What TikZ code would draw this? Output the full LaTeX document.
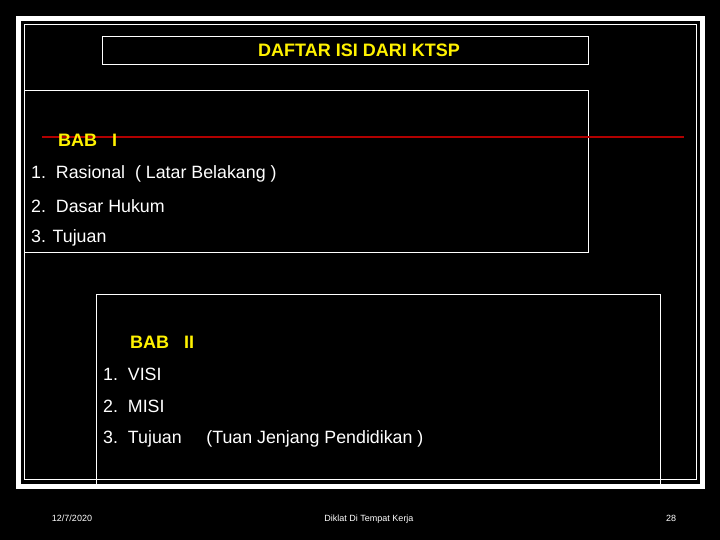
\documentclass[tikz,border=0pt]{standalone}
\usepackage{fontspec}
\setmainfont{Liberation Sans}
\begin{document}
\begin{tikzpicture}[x=1pt,y=-1pt,
  txt/.style={anchor=west,inner sep=0pt},
  ytxt/.style={txt,text=yellow,font=\bfseries\fontsize{18}{20}\selectfont},
  wtxt/.style={txt,text=white,font=\fontsize{17.8}{20}\selectfont},
  foot/.style={inner sep=0pt,anchor=base,text=white,font=\fontsize{9}{10}\selectfont}]
\fill[black] (0,0) rectangle (720,540);
\useasboundingbox (0,0) rectangle (720,540);
\draw[white,line width=5pt] (18.5,18.5) rectangle (702.5,486.5);
\draw[white,line width=1pt] (24.5,24.5) rectangle (696,479);
\draw[white,line width=1pt] (102.5,36.5) rectangle (588.5,64.5);
\draw[white,line width=1pt] (24.5,90.5) rectangle (588.5,252.5);
\draw[white,line width=1pt] (96.5,484) -- (96.5,294.5) -- (660.5,294.5) -- (660.5,484);
\draw[red!70!black,line width=2pt] (42,137) -- (684,137);
\node[ytxt,anchor=center] (t) at (359,50) {DAFTAR ISI DARI KTSP};
\node[ytxt] (b1) at (58,140) {BAB\ \ \ I};
\node[wtxt] (a1) at (31,174) {1.\ \ Rasional\ \ ( Latar Belakang )};
\node[wtxt] (a2) at (31,206) {2.\ \ Dasar Hukum};
\node[wtxt] (a3) at (31,238) {3. Tujuan};
\node[ytxt] (b2) at (130,342) {BAB\ \ \ II};
\node[wtxt] (c1) at (103,374) {1.\ \ VISI};
\node[wtxt] (c2) at (103,406) {2.\ \ MISI};
\node[wtxt] (c3) at (103,439) {3.\ \ Tujuan\ \ \ \ \ (Tuan Jenjang Pendidikan )};
\node[foot] (f1) at (72,521) {12/7/2020};
\node[foot] (f2) at (369,521) {Diklat Di Tempat Kerja};
\node[foot] (f3) at (671,521) {28};
\end{tikzpicture}
\end{document}
